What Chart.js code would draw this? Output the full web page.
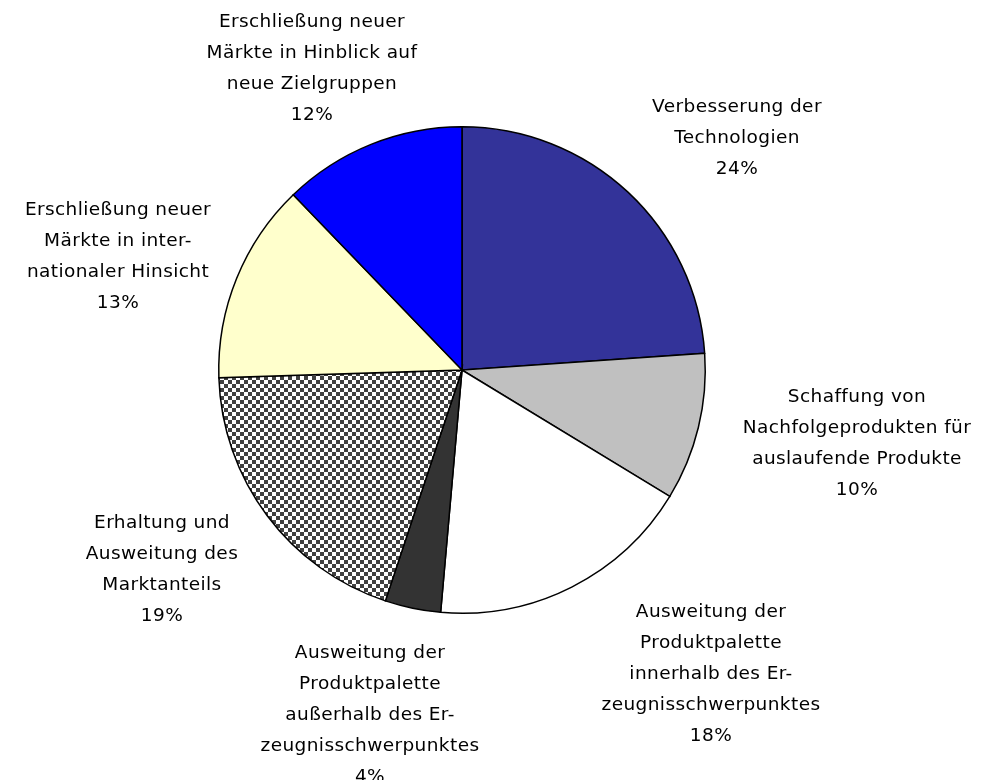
<!DOCTYPE html>
<html>
<head>
<meta charset="utf-8">
<script src="https://cdn.jsdelivr.net/npm/chart.js@4.4.1/dist/chart.umd.min.js"></script>
<style>
html,body{margin:0;padding:0;background:#fff;}
#wrap{width:988px;height:780px;position:relative;}
</style>
</head>
<body>
<div id="wrap"><canvas id="c" width="988" height="780"></canvas></div>
<script>
const categories = [
  ["Verbesserung der", "Technologien"],
  ["Schaffung von", "Nachfolgeprodukten für", "auslaufende Produkte"],
  ["Ausweitung der", "Produktpalette", "innerhalb des Er-", "zeugnisschwerpunktes"],
  ["Ausweitung der", "Produktpalette", "außerhalb des Er-", "zeugnisschwerpunktes"],
  ["Erhaltung und", "Ausweitung des", "Marktanteils"],
  ["Erschließung neuer", "Märkte in inter-", "nationaler Hinsicht"],
  ["Erschließung neuer", "Märkte in Hinblick auf", "neue Zielgruppen"]
];
// shares (labels show them rounded)
const values = [23.9, 9.8, 17.7, 3.7, 19.4, 13.3, 12.2];

// label block centres relative to the pie centre (x centre, y of first line)
const labelLayout = [
  [275, -263],
  [395, 27],
  [249, 242],
  [-92, 283],
  [-300, 153],
  [-344, -160],
  [-150, -348]
];

function checker() {
  const p = document.createElement('canvas');
  p.width = 8; p.height = 8;
  const g = p.getContext('2d');
  g.fillStyle = '#ffffff'; g.fillRect(0,0,8,8);
  g.fillStyle = '#404040';
  g.fillRect(0,0,4,4); g.fillRect(4,4,4,4);
  return document.getElementById('c').getContext('2d').createPattern(p, 'repeat');
}

const colors = ['#333399', '#C0C0C0', '#FFFFFF', '#333333', checker(), '#FFFFCC', '#0000FF'];

const labelPlugin = {
  id: 'labels',
  afterDraw(chart) {
    const ctx = chart.ctx;
    const arc = chart.getDatasetMeta(0).data[0];
    const cx = arc.x, cy = arc.y;
    ctx.save();
    ctx.font = '18.5px "DejaVu Sans"';
    if ('letterSpacing' in ctx) ctx.letterSpacing = '0.4px';
    ctx.fillStyle = '#000';
    ctx.textAlign = 'center';
    ctx.textBaseline = 'middle';
    const lh = 31;
    categories.forEach((lines, i) => {
      const [dx, dy] = labelLayout[i];
      const all = lines.concat([Math.round(values[i]) + '%']);
      all.forEach((t, j) => ctx.fillText(t, cx + dx, cy + dy + j * lh));
    });
    ctx.restore();
  }
};

new Chart(document.getElementById('c'), {
  type: 'pie',
  data: {
    labels: categories.map(l => l.join(' ')),
    datasets: [{
      data: values,
      backgroundColor: colors,
      borderColor: '#000',
      borderWidth: 1.5,
      borderJoinStyle: 'miter'
    }]
  },
  options: {
    responsive: false,
    animation: false,
    layout: { padding: { left: 218, right: 282, top: 126, bottom: 166 } },
    plugins: { legend: { display: false }, tooltip: { enabled: false } }
  },
  plugins: [labelPlugin]
});
</script>
</body>
</html>
